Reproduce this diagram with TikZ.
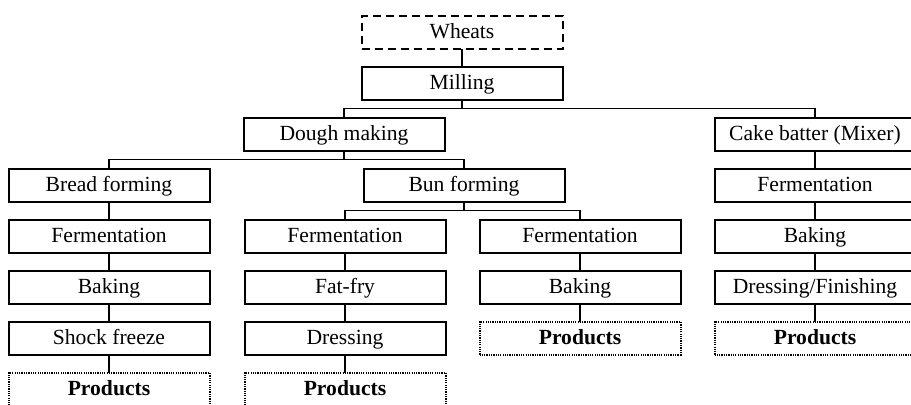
\documentclass[tikz,border=0pt]{standalone}
\usepackage{fontspec}
\setmainfont{Liberation Serif}
\usetikzlibrary{positioning}
\tikzset{
    block/.style={
        rectangle,
        draw=black,
        line width=1pt,
        text centered,
        minimum width=100.5pt,
        minimum height=16.5pt,
        inner sep=0pt,
        outer sep=0pt,
        text height=9.2pt,
        text depth=2.3pt,
        font=\fontsize{10.8}{13}\selectfont
    },
    rawblock/.style={
        block,
        dash pattern=on 4pt off 2.5pt
    },
    productblock/.style={
        block,
        line width=1pt,
        dash pattern=on 0.6pt off 0.55pt,
        font=\fontsize{10.8}{13}\selectfont\bfseries
    },
    connection/.style={
        draw=black,
        line width=0.9pt
    },
    forkline/.style={
        connection,
        to path={(\tikztostart) -- ++(0,9) -| (\tikztotarget)}
    }
}

\begin{document}
\begin{tikzpicture}[x=0.5pt, y=-0.5pt, node distance=9pt]
\useasboundingbox (0,0) rectangle (911,404);

% Raw material and milling
\node[rawblock] (wheats) at (462,32) {Wheats};
\node[block, below=of wheats] (milling) {Milling};

% Dough and batter
\node[block] (dough) at (344,134) {Dough making};
\node[block] (cake) at (815,134) {Cake batter (Mixer)};

% Forming
\node[block] (bread) at (109,185) {Bread forming};
\node[block] (bun) at (464,185) {Bun forming};

% Bread line
\node[block, below=of bread] (breadferm) {Fermentation};
\node[block, below=of breadferm] (breadbake) {Baking};
\node[block, below=of breadbake] (breadfreeze) {Shock freeze};
\node[productblock, below=of breadfreeze] (breadprod) {Products};

% Fried bun line
\node[block] (fryferm) at (345,236) {Fermentation};
\node[block, below=of fryferm] (fryfat) {Fat-fry};
\node[block, below=of fryfat] (frydress) {Dressing};
\node[productblock, below=of frydress] (fryprod) {Products};

% Baked bun line
\node[block] (bunferm) at (580,236) {Fermentation};
\node[block, below=of bunferm] (bunbake) {Baking};
\node[productblock, below=of bunbake] (bunprod) {Products};

% Cake line
\node[block, below=of cake] (cakeferm) {Fermentation};
\node[block, below=of cakeferm] (cakebake) {Baking};
\node[block, below=of cakebake] (cakedress) {Dressing/Finishing};
\node[productblock, below=of cakedress] (cakeprod) {Products};

% Connections
\draw[connection] (wheats) -- (milling);
\draw[forkline] (milling.south) to (dough.north);
\draw[forkline] (milling.south) to (cake.north);
\draw[forkline] (dough.south) to (bread.north);
\draw[forkline] (dough.south) to (bun.north);
\draw[forkline] (bun.south) to (fryferm.north);
\draw[forkline] (bun.south) to (bunferm.north);

\draw[connection] (bread) -- (breadferm) -- (breadbake) -- (breadfreeze) -- (breadprod);
\draw[connection] (fryferm) -- (fryfat) -- (frydress) -- (fryprod);
\draw[connection] (bunferm) -- (bunbake) -- (bunprod);
\draw[connection] (cake) -- (cakeferm) -- (cakebake) -- (cakedress) -- (cakeprod);

\end{tikzpicture}
\end{document}
